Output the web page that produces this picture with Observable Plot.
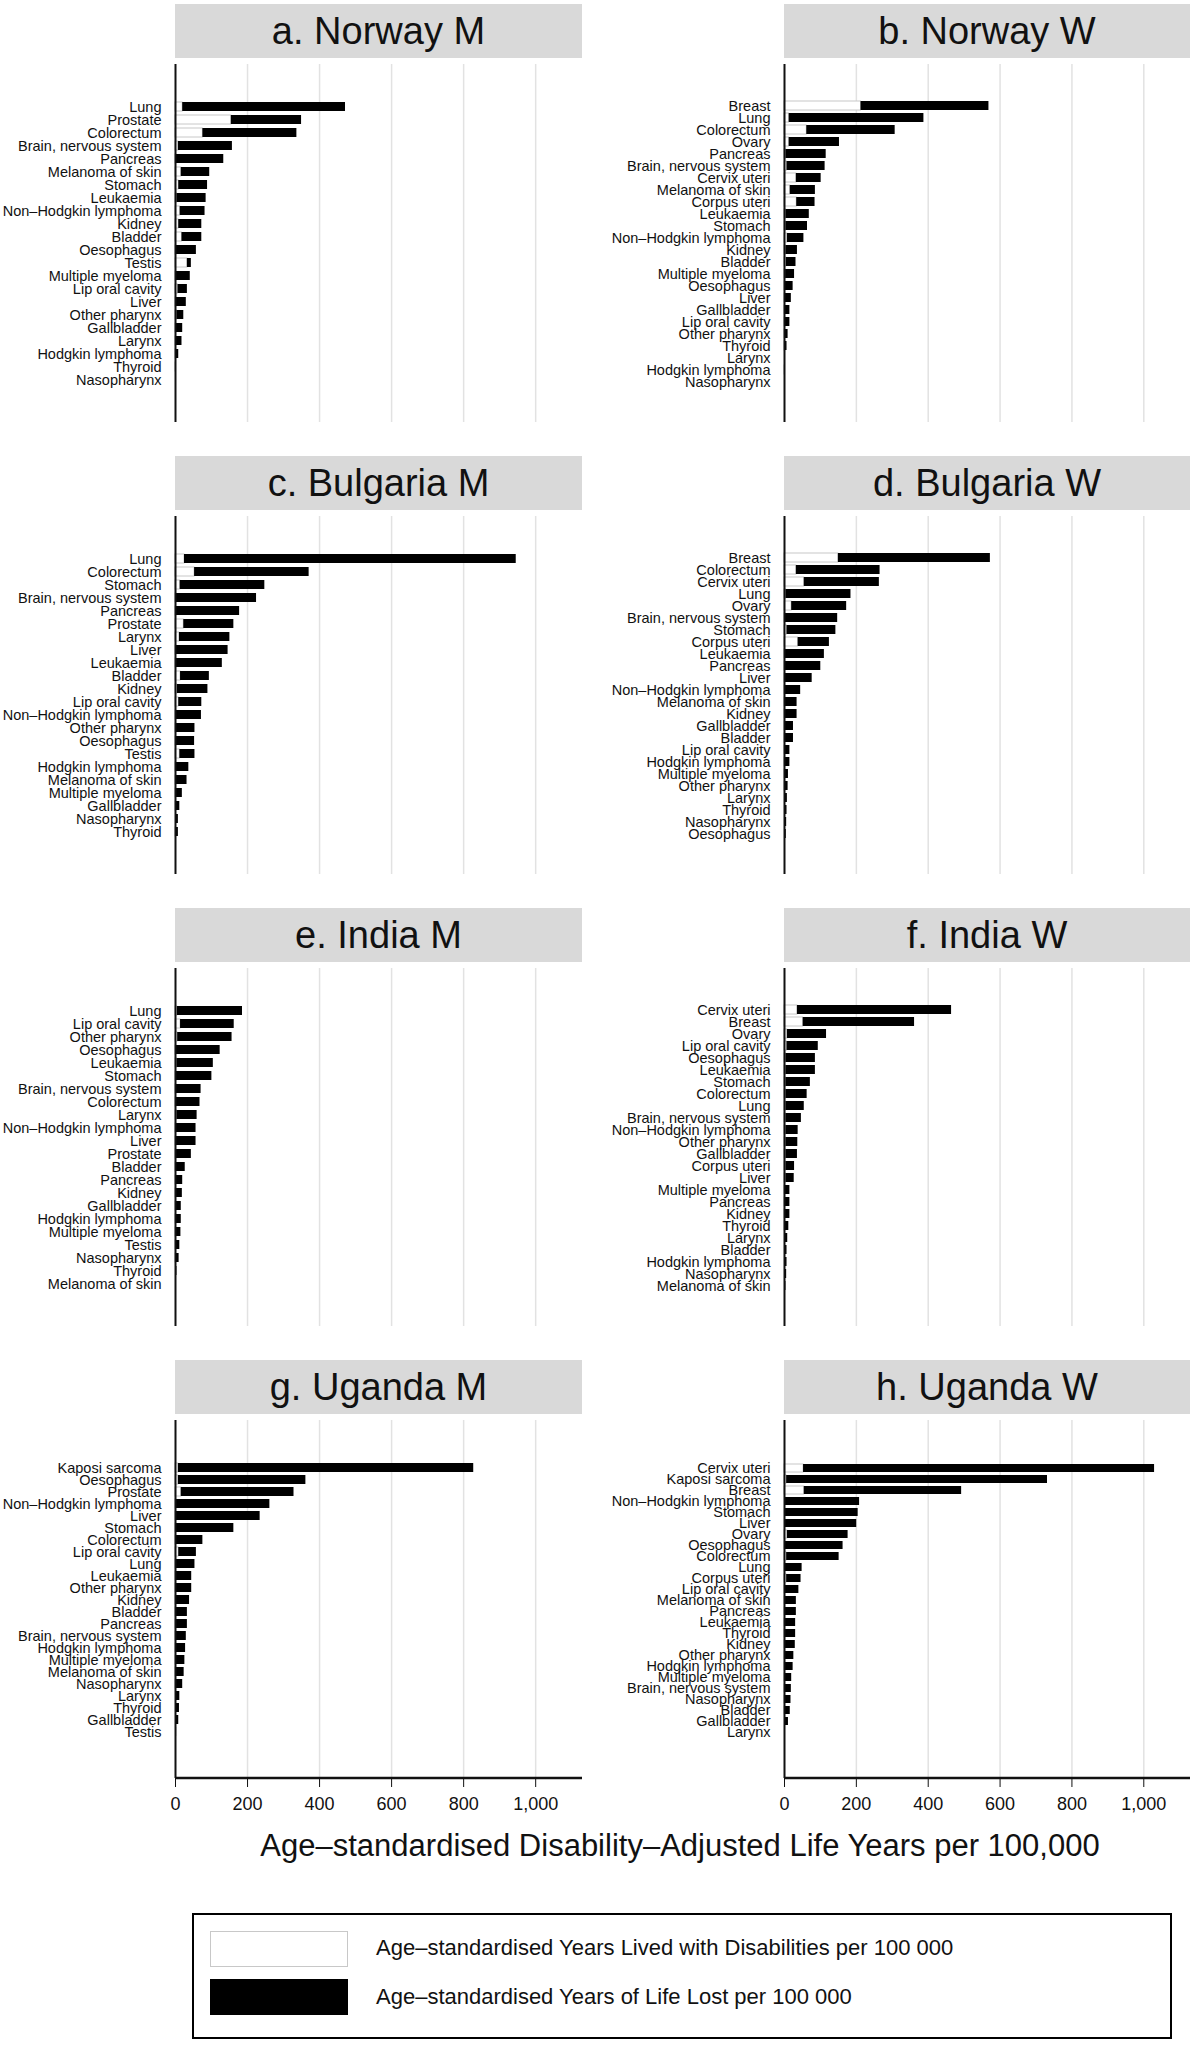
<!DOCTYPE html>
<html><head><meta charset="utf-8">
<script src="https://cdn.jsdelivr.net/npm/d3@7"></script>
<script src="https://cdn.jsdelivr.net/npm/@observablehq/plot@0.6"></script>
<style>
body{margin:0;background:#fff;font-family:"Liberation Sans",Arial,sans-serif;}
#wrap{position:relative;width:1200px;height:2060px;}
.hdr{position:absolute;background:#d9d9d9;text-align:center;font-size:38px;color:#111;line-height:54px;height:54px;}
.plt{position:absolute;}
#xtitle{position:absolute;left:120px;width:1120px;top:1828px;text-align:center;font-size:31px;color:#111;z-index:5;}
#legend{position:absolute;left:192px;top:1913px;width:980px;height:126px;border:2px solid #000;box-sizing:border-box;}
.sw{position:absolute;left:16px;width:138px;height:36px;box-sizing:border-box;}
.lt{position:absolute;left:182px;font-size:22px;color:#111;}
</style></head>
<body><div id="wrap">
<div id="xtitle">Age–standardised Disability–Adjusted Life Years per 100,000</div>
<div id="legend">
<div class="sw" style="top:16px;border:1.5px solid #c8c8c8;background:#fff"></div>
<div class="lt" style="top:20px">Age–standardised Years Lived with Disabilities per 100 000</div>
<div class="sw" style="top:64px;background:#000"></div>
<div class="lt" style="top:69px">Age–standardised Years of Life Lost per 100 000</div>
</div>
</div>
<script>
const xTicks = [0, 200, 400, 600, 800, 1000];

const aTitle = "a. Norway M";
const aCats = ["Lung","Prostate","Colorectum","Brain, nervous system","Pancreas","Melanoma of skin","Stomach","Leukaemia","Non–Hodgkin lymphoma","Kidney","Bladder","Oesophagus","Testis","Multiple myeloma","Lip oral cavity","Liver","Other pharynx","Gallbladder","Larynx","Hodgkin lymphoma","Thyroid","Nasopharynx"];
const aYLD = [20,155,76,8,2,16,9,4,13,9,18,2,33,2,7,2,4,2,2,1,1,0];
const aTotal = [472,350,337,158,134,95,89,85,82,73,73,58,44,41,33,30,23,20,18,9,2,1];

const bTitle = "b. Norway W";
const bCats = ["Breast","Lung","Colorectum","Ovary","Pancreas","Brain, nervous system","Cervix uteri","Melanoma of skin","Corpus uteri","Leukaemia","Stomach","Non–Hodgkin lymphoma","Kidney","Bladder","Multiple myeloma","Oesophagus","Liver","Gallbladder","Lip oral cavity","Other pharynx","Thyroid","Larynx","Hodgkin lymphoma","Nasopharynx"];
const bYLD = [213,13,62,13,4,7,33,16,34,4,4,8,4,5,3,2,2,1,2,1,1,0,1,0];
const bTotal = [569,388,308,153,116,113,102,86,85,69,64,54,36,32,28,24,19,15,15,10,7,2,2,1];

const cTitle = "c. Bulgaria M";
const cCats = ["Lung","Colorectum","Stomach","Brain, nervous system","Pancreas","Prostate","Larynx","Liver","Leukaemia","Bladder","Kidney","Lip oral cavity","Non–Hodgkin lymphoma","Other pharynx","Oesophagus","Testis","Hodgkin lymphoma","Melanoma of skin","Multiple myeloma","Gallbladder","Nasopharynx","Thyroid"];
const cYLD = [25,53,13,2,2,23,11,2,2,14,5,9,2,2,2,12,2,2,1,1,0,1];
const cTotal = [946,371,248,225,178,162,151,146,130,94,90,73,72,54,53,54,37,32,19,12,8,8];

const dTitle = "d. Bulgaria W";
const dCats = ["Breast","Colorectum","Cervix uteri","Lung","Ovary","Brain, nervous system","Stomach","Corpus uteri","Leukaemia","Pancreas","Liver","Non–Hodgkin lymphoma","Melanoma of skin","Kidney","Gallbladder","Bladder","Lip oral cavity","Hodgkin lymphoma","Multiple myeloma","Other pharynx","Larynx","Thyroid","Nasopharynx","Oesophagus"];
const dYLD = [150,33,55,4,20,2,7,38,2,2,2,2,2,2,1,1,1,1,1,1,0,0,0,0];
const dTotal = [573,266,264,185,173,148,143,125,111,101,77,45,35,35,25,25,15,15,11,10,8,7,6,5];

const eTitle = "e. India M";
const eCats = ["Lung","Lip oral cavity","Other pharynx","Oesophagus","Leukaemia","Stomach","Brain, nervous system","Colorectum","Larynx","Non–Hodgkin lymphoma","Liver","Prostate","Bladder","Pancreas","Kidney","Gallbladder","Hodgkin lymphoma","Multiple myeloma","Testis","Nasopharynx","Thyroid","Melanoma of skin"];
const eYLD = [5,14,6,2,4,2,2,2,4,2,2,2,1,1,1,1,1,1,1,1,0,0];
const eTotal = [186,163,157,124,105,101,71,68,60,57,57,44,27,20,19,16,16,15,12,10,4,2];

const fTitle = "f. India W";
const fCats = ["Cervix uteri","Breast","Ovary","Lip oral cavity","Oesophagus","Leukaemia","Stomach","Colorectum","Lung","Brain, nervous system","Non–Hodgkin lymphoma","Other pharynx","Gallbladder","Corpus uteri","Liver","Multiple myeloma","Pancreas","Kidney","Thyroid","Larynx","Bladder","Hodgkin lymphoma","Nasopharynx","Melanoma of skin"];
const fYLD = [36,52,8,7,4,4,4,4,4,4,4,4,4,4,4,1,1,1,1,0,0,0,0,0];
const fTotal = [465,362,117,94,86,86,72,63,55,47,38,37,36,28,27,15,15,15,12,9,7,7,6,4];

const gTitle = "g. Uganda M";
const gCats = ["Kaposi sarcoma","Oesophagus","Prostate","Non–Hodgkin lymphoma","Liver","Stomach","Colorectum","Lip oral cavity","Lung","Leukaemia","Other pharynx","Kidney","Bladder","Pancreas","Brain, nervous system","Hodgkin lymphoma","Multiple myeloma","Melanoma of skin","Nasopharynx","Larynx","Thyroid","Gallbladder","Testis"];
const gYLD = [8,8,16,2,2,2,2,9,2,1,1,1,1,1,1,1,1,1,1,0,0,0,0];
const gTotal = [828,362,329,262,235,162,76,58,54,45,45,39,33,33,30,28,26,24,20,12,11,9,3];

const hTitle = "h. Uganda W";
const hCats = ["Cervix uteri","Kaposi sarcoma","Breast","Non–Hodgkin lymphoma","Stomach","Liver","Ovary","Oesophagus","Colorectum","Lung","Corpus uteri","Lip oral cavity","Melanoma of skin","Pancreas","Leukaemia","Thyroid","Kidney","Other pharynx","Hodgkin lymphoma","Multiple myeloma","Brain, nervous system","Nasopharynx","Bladder","Gallbladder","Larynx"];
const hYLD = [53,6,55,0,0,0,8,1,6,1,6,1,1,1,1,1,1,1,1,1,1,1,1,0,0];
const hTotal = [1030,732,493,209,205,201,177,163,152,49,46,40,33,33,31,31,30,26,24,20,19,18,16,11,1];

const panels = [
  [aTitle,aCats,aYLD,aTotal],[bTitle,bCats,bYLD,bTotal],
  [cTitle,cCats,cYLD,cTotal],[dTitle,dCats,dYLD,dTotal],
  [eTitle,eCats,eYLD,eTotal],[fTitle,fCats,fYLD,fTotal],
  [gTitle,gCats,gYLD,gTotal],[hTitle,hCats,hYLD,hTotal]
];

const wrap = document.getElementById("wrap");
const font = '"Liberation Sans",Arial,sans-serif';
panels.forEach(([title,cats,yld,total],i)=>{
  const col = i % 2, row = Math.floor(i/2);
  const left = col ? 600 : 0;
  const mL = col ? 184 : 175;
  const W = 600, mR = col ? 10 : 18;
  const top = 64 + 452*row;
  const PH = 358;
  const bottomRow = row === 3;
  const data = cats.map((c,k)=>({c, yld:yld[k], total:total[k]}));
  const n = cats.length;
  const step = 289/(n-1);
  const hdr = document.createElement("div");
  hdr.className = "hdr";
  hdr.style.left = (left+mL)+"px"; hdr.style.top = (4+452*row)+"px";
  hdr.style.width = (W-mL-mR)+"px";
  hdr.textContent = title;
  wrap.appendChild(hdr);
  const marks = [
    Plot.ruleX(xTicks.slice(1), {stroke:"#e2e2e2", strokeWidth:1.5}),
    Plot.barX(data, {y:"c", x1:0, x2:"yld", fill:"#fff", stroke:"#c8c8c8", strokeWidth:1}),
    Plot.barX(data, {y:"c", x1:"yld", x2:"total", fill:"#000"}),
    Plot.ruleX([0], {stroke:"#111", strokeWidth:2}),
    Plot.axisY({tickSize:0, tickPadding:14, fontSize:14.5, label:null})
  ];
  if (bottomRow) {
    marks.push(Plot.axisX({ticks:xTicks, tickFormat:d3.format(","), tickSize:9, tickPadding:10, fontSize:18, label:null, stroke:"#111"}));
  }
  const p = Plot.plot({
    width: W, height: PH + (bottomRow ? 50 : 0),
    marginLeft: mL, marginRight: mR, marginTop: 0, marginBottom: bottomRow ? 50 : 0,
    style: {fontFamily: font, color:"#111", background:"transparent"},
    x: {domain:[0,1130], axis:null},
    y: {domain: cats, range:[35-step/2, 324+step/2], padding:0.28, axis:null},
    marks
  });
  if (bottomRow) {
    d3.select(p).append("line").attr("x1",mL).attr("x2",W-mR).attr("y1",PH).attr("y2",PH).attr("stroke","#111").attr("stroke-width",2.5);
  }
  p.classList.add("plt");
  p.style.left = left+"px"; p.style.top = top+"px";
  wrap.appendChild(p);
});
</script>
</body></html>
